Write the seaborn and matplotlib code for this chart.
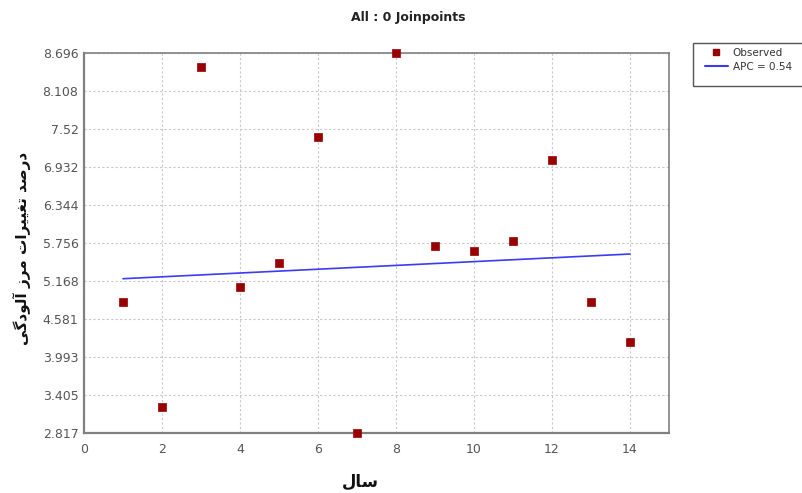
import matplotlib
matplotlib.use("Agg")
import matplotlib.pyplot as plt
import seaborn as sns
import pandas as pd
from matplotlib.lines import Line2D
from matplotlib.patches import Rectangle

# ---- data ----
years = [1, 2, 3, 4, 5, 6, 7, 8, 9, 10, 11, 12, 13, 14]
observed = [4.844, 3.219, 8.479, 5.076, 5.447, 7.396, 2.817, 8.696,
            5.710, 5.633, 5.788, 7.041, 4.844, 4.225]
fit_years = [1, 14]
fit_values = [5.204, 5.586]
y_ticks = [2.817, 3.405, 3.993, 4.581, 5.168, 5.756, 6.344, 6.932, 7.52, 8.108, 8.696]
y_tick_labels = ["2.817", "3.405", "3.993", "4.581", "5.168", "5.756",
                 "6.344", "6.932", "7.52", "8.108", "8.696"]
x_ticks = [0, 2, 4, 6, 8, 10, 12, 14]
title = "All : 0 Joinpoints"
xlabel = "سال"
ylabel = "درصد تغییرات مرز آلودگی"
legend_labels = ["Observed", "APC = 0.54"]

# ---- minimal Persian shaping (presentation forms) ----
FORMS = {  # isolated, final, initial, medial
    "د": ("\uFEA9", "\uFEAA", None, None),
    "ر": ("\uFEAD", "\uFEAE", None, None),
    "ز": ("\uFEAF", "\uFEB0", None, None),
    "ا": ("\uFE8D", "\uFE8E", None, None),
    "آ": ("\uFE81", "\uFE82", None, None),
    "و": ("\uFEED", "\uFEEE", None, None),
    "ص": ("\uFEB9", "\uFEBA", "\uFEBB", "\uFEBC"),
    "ت": ("\uFE95", "\uFE96", "\uFE97", "\uFE98"),
    "غ": ("\uFECD", "\uFECE", "\uFECF", "\uFED0"),
    "ی": ("\uFBFC", "\uFBFD", "\uFBFE", "\uFBFF"),
    "م": ("\uFEE1", "\uFEE2", "\uFEE3", "\uFEE4"),
    "ل": ("\uFEDD", "\uFEDE", "\uFEDF", "\uFEE0"),
    "گ": ("\uFB92", "\uFB93", "\uFB94", "\uFB95"),
    "س": ("\uFEB1", "\uFEB2", "\uFEB3", "\uFEB4"),
}


def dual(c):
    return c in FORMS and FORMS[c][2] is not None


def shape(text):
    out = []
    for i, c in enumerate(text):
        if c not in FORMS:
            out.append(c)
            continue
        prev = text[i - 1] if i > 0 else ""
        nxt = text[i + 1] if i + 1 < len(text) else ""
        jp = dual(prev)
        jn = dual(c) and nxt in FORMS
        iso, fin, ini, med = FORMS[c]
        if jp and jn:
            out.append(med)
        elif jp:
            out.append(fin)
        elif jn:
            out.append(ini)
        else:
            out.append(iso)
    return "".join(out)[::-1]


# ---- plot ----
sns.set_theme(style="whitegrid")
plt.rcParams["font.family"] = ["DejaVu Sans"]

fig = plt.figure(figsize=(8.03, 4.93), dpi=100)
ax = fig.add_axes([84 / 803, 1 - 433 / 493, (669 - 84) / 803, (433 - 53) / 493])
ax.set_facecolor("white")

df_obs = pd.DataFrame({"year": years, "value": observed})
df_fit = pd.DataFrame({"year": fit_years, "value": fit_values})

sns.lineplot(data=df_fit, x="year", y="value", ax=ax, color="#3b3bf5",
             linewidth=1.2, zorder=3)
sns.scatterplot(data=df_obs, x="year", y="value", ax=ax, marker="s", s=26,
                color="#990000", edgecolor="#990000", linewidth=0.5, zorder=4,
                clip_on=False)

ax.set_xlim(0, 15)
ax.set_ylim(y_ticks[0], y_ticks[-1])
ax.set_xticks(x_ticks)
ax.set_xticklabels([str(v) for v in x_ticks])
ax.set_yticks(y_ticks)
ax.set_yticklabels(y_tick_labels)
ax.tick_params(axis="both", labelsize=9, colors="#555555", length=2,
               width=0.8, labelcolor="#555555")
ax.tick_params(axis="x", pad=5)
ax.tick_params(axis="y", pad=2)
ax.grid(True, color="#c8c8c8", linestyle=(0, (2, 2)), linewidth=0.8)
for side, sp in ax.spines.items():
    sp.set_visible(True)
    sp.set_color("#808080")
    sp.set_linewidth(1.6 if side in ("left", "bottom") else 1.2)

ax.set_xlabel("")
ax.set_ylabel("")

fig.text(408 / 803, 1 - 17 / 493, title, ha="center", va="center",
         fontsize=9, fontweight="bold", color="#222222")
fig.text(360 / 803, 1 - 482 / 493, shape(xlabel), ha="center", va="center",
         fontsize=12, fontweight="bold", color="#111111")
fig.text(22 / 803, 1 - 248 / 493, shape(ylabel), ha="center", va="center",
         rotation=90, fontsize=11, fontweight="bold", color="#111111")

# legend box (runs off the right edge, as in the reference)
fig.patches.append(Rectangle((693 / 803, 1 - 86 / 493), 150 / 803, 43 / 493,
                             transform=fig.transFigure, facecolor="white",
                             edgecolor="#555555", linewidth=1.0, zorder=1))
handles = [
    Line2D([], [], marker="s", linestyle="none", color="#990000",
           markersize=3.8),
    Line2D([], [], color="#3b3bf5", linewidth=1.5),
]
leg = fig.legend(handles, legend_labels, loc="upper left",
                 bbox_to_anchor=(705 / 803, 1 - 48 / 493),
                 fontsize=7.5, frameon=False,
                 borderpad=0, handlelength=2.2, handletextpad=0.45,
                 labelspacing=0.35, borderaxespad=0)
for t in leg.get_texts():
    t.set_color("#333333")

fig.savefig("out.png", dpi=100, facecolor="white")
